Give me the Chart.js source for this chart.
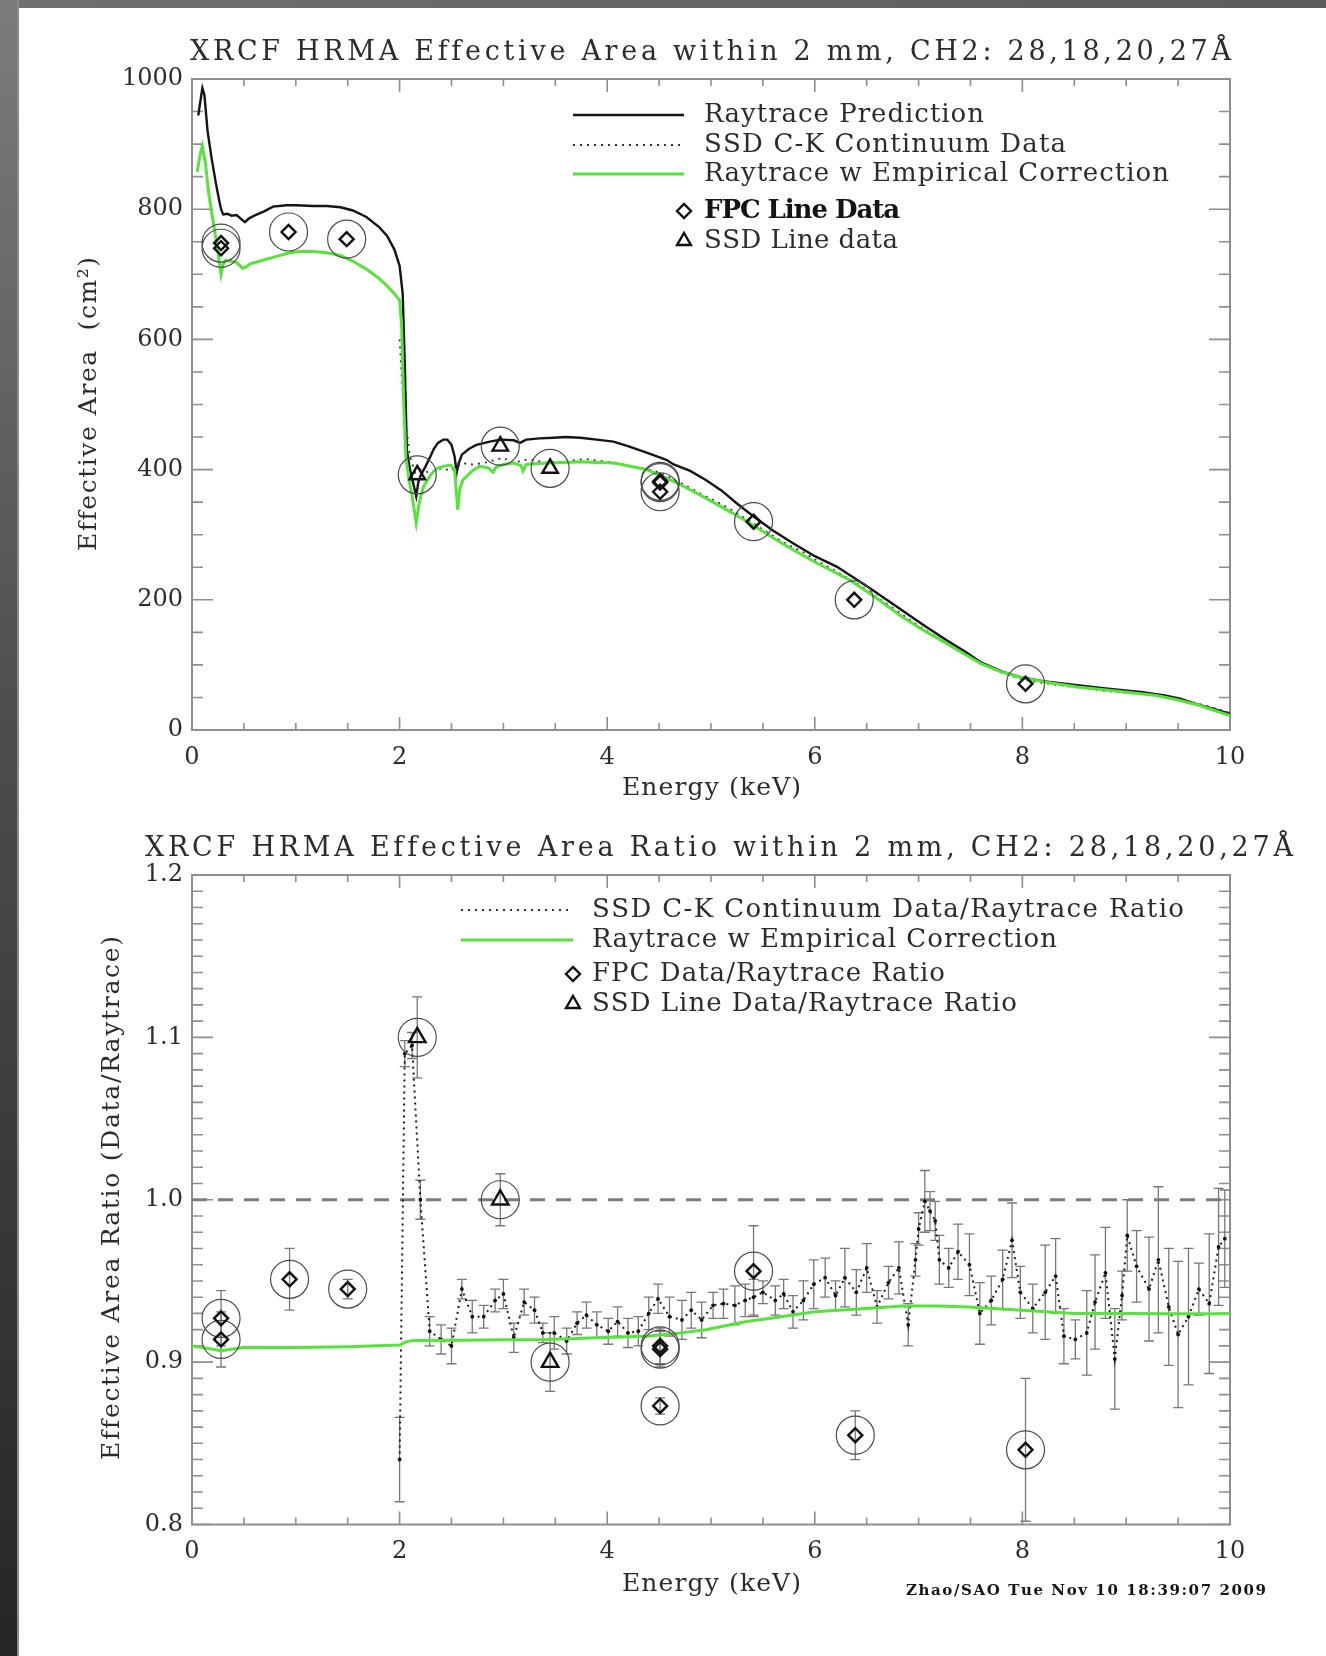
<!DOCTYPE html>
<html>
<head>
<meta charset="utf-8">
<title>XRCF HRMA Effective Area</title>
<script src="https://cdn.jsdelivr.net/npm/chart.js@4.4.1/dist/chart.umd.min.js"></script>
<style>
  html, body { margin: 0; padding: 0; background: #ffffff; }
  body { width: 1326px; height: 1656px; position: relative; overflow: hidden; }
  #frameTop { position: absolute; left: 0; top: 0; width: 1326px; height: 8px;
              background: linear-gradient(to right, #707070, #5c5c5c); }
  #frameLeft { position: absolute; left: 0; top: 0; width: 17px; height: 1656px;
               background: linear-gradient(#7c7c7c, #4c4c4c 45%, #262626);
               border-right: 2px solid #8a8a8a; }
  canvas { position: absolute; left: 0; }
  #areaChart { top: 0; }
  #ratioChart { top: 800px; }
</style>
</head>
<body>
<div id="frameTop"></div>
<div id="frameLeft"></div>
<canvas id="areaChart" width="1326" height="800"></canvas>
<canvas id="ratioChart" width="1326" height="856"></canvas>
<script>
// ---------------- upper panel: effective area (cm^2) vs energy (keV) ----------------
const rayEnergy = [0.06,0.08,0.10,0.12,0.15,0.19,0.23,0.26,0.28,0.30,0.34,0.38,0.43,0.48,0.51,0.55,0.60,0.70,0.78,0.91,
  1.00,1.17,1.30,1.43,1.55,1.68,1.80,1.88,1.95,2.00,2.03,2.05,2.07,2.10,2.13,2.16,2.18,2.20,2.25,2.29,
  2.33,2.37,2.42,2.46,2.50,2.53,2.55,2.57,2.60,2.67,2.74,2.87,2.97,3.10,3.16,3.22,3.35,3.48,3.60,3.74,
  3.90,4.06,4.20,4.38,4.57,4.64,4.80,4.95,5.10,5.25,5.41,5.60,5.79,6.00,6.21,6.51,6.84,7.05,7.27,7.45,
  7.60,7.80,7.98,8.20,8.53,8.80,9.16,9.37,9.52,9.67,9.85,10.0];
const rayArea = [944,965,986,975,920,877,840,815,800,792,793,790,791,784,780,786,790,797,804,806,
  806,805,805,803,798,788,773,759,738,713,670,560,430,400,380,359,380,390,405,418,
  432,441,446,446,438,420,395,410,423,432,438,443,446,445,441,446,448,449,450,449,
  446,443,436,426,415,408,398,384,368,348,328,306,287,267,251,220,184,161,138,120,
  104,90,81,75,69,64,58,53,48,40,32,25];

const contEnergy = [2.00,2.03,2.06,2.10,2.15,2.20,2.29,2.40,2.50,2.60,2.70,2.81,2.92,3.00,3.10,3.20,3.30,3.40,3.50,3.60,
  3.70,3.80,3.90,4.00,4.10,4.20,4.30,4.40,4.50,4.60,4.70,4.80,4.90,5.00,5.10,5.20,5.30,5.40,5.50,5.60,
  5.70,5.80,5.90,6.00,6.20,6.40,6.60,6.80,7.00,7.20,7.40,7.60,7.80,8.00,8.20,8.40,8.60,8.80,9.00,9.20,
  9.40,9.60,9.80,10.0];
const contArea = [600,520,470,420,395,400,395,402,398,410,408,410,415,418,410,415,415,410,412,412,
  415,416,414,412,410,406,403,400,396,388,380,372,363,355,347,338,328,318,308,298,
  288,280,272,262,244,226,204,182,160,140,120,102,88,78,72,68,64,60,57,55,
  50,44,36,26];

const corrEnergy = [0.05,0.08,0.10,0.13,0.16,0.19,0.22,0.25,0.28,0.30,0.32,0.38,0.43,0.49,0.53,0.56,0.65,0.78,0.94,1.05,
  1.17,1.30,1.43,1.55,1.68,1.80,1.88,1.95,2.00,2.02,2.04,2.06,2.09,2.12,2.16,2.19,2.23,2.30,2.36,2.42,
  2.49,2.53,2.56,2.58,2.61,2.70,2.77,2.85,2.90,2.93,3.00,3.10,3.17,3.19,3.22,3.30,3.42,3.60,3.74,3.90,
  4.06,4.20,4.38,4.50,4.64,4.74,5.02,5.20,5.37,5.60,5.79,6.00,6.34,6.60,6.84,7.05,7.27,7.45,7.60,7.80,
  7.98,8.20,8.53,8.90,9.29,9.50,9.70,9.85,10.0];
const corrArea = [857,885,897,870,826,795,765,735,700,715,721,720,718,709,712,716,720,726,733,735,
  735,733,729,720,708,694,682,670,660,620,500,420,385,360,318,350,374,392,402,405,
  407,400,338,370,384,398,405,403,396,404,408,410,406,398,408,409,410,411,412,411,
  410,406,400,392,382,374,350,334,318,295,277,258,230,202,174,153,133,116,102,89,
  81,74,66,60,53,46,38,30,22];

const fpcLineEnergy = [0.28,0.28,0.93,1.49,4.51,4.51,4.51,5.41,6.38,8.03];
const fpcLineArea   = [748,740,765,754,382,380,366,320,200,71];
const ssdLineEnergy = [2.17,2.97,3.45];
const ssdLineArea   = [392,436,402];

const energyTicks = [0,2,4,6,8,10];
const energyTickLabels = ['0','2','4','6','8','10'];
const areaTicks = [0,200,400,600,800,1000];
const areaTickLabels = ['0','200','400','600','800','1000'];

// ---------------- lower panel: data / raytrace ratio ----------------
const contRatioEnergy = [2.00,2.05,2.12,2.20,2.29,2.40,2.50,2.60,2.70,2.81,2.92,3.00,3.10,3.20,3.30,3.38,3.49,3.61,3.71,3.80,
  3.90,4.01,4.10,4.20,4.30,4.40,4.49,4.60,4.72,4.81,4.91,5.02,5.12,5.23,5.33,5.41,5.50,5.62,5.70,5.79,
  5.89,5.99,6.10,6.20,6.29,6.40,6.50,6.60,6.71,6.81,6.90,6.97,7.00,7.06,7.11,7.16,7.20,7.29,7.38,7.49,
  7.59,7.70,7.81,7.90,7.98,8.10,8.22,8.32,8.40,8.51,8.62,8.70,8.80,8.89,8.96,9.01,9.10,9.22,9.31,9.41,
  9.50,9.60,9.70,9.80,9.89,9.95];
const contRatio = [0.840,1.090,1.095,1.000,0.919,0.914,0.910,0.945,0.928,0.928,0.938,0.942,0.915,0.937,0.932,0.918,0.918,0.913,0.924,0.929,
  0.923,0.919,0.925,0.918,0.919,0.930,0.939,0.928,0.926,0.932,0.926,0.935,0.936,0.935,0.938,0.940,0.943,0.938,0.942,0.931,
  0.938,0.948,0.952,0.941,0.952,0.943,0.958,0.934,0.949,0.958,0.923,0.963,0.982,0.999,0.993,0.987,0.963,0.958,0.968,0.960,
  0.930,0.938,0.951,0.975,0.943,0.933,0.943,0.953,0.916,0.914,0.918,0.937,0.955,0.902,0.941,0.978,0.959,0.945,0.963,0.934,
  0.917,0.928,0.945,0.936,0.971,0.976];
const contRatioErr = [0.026,0.008,0.008,0.012,0.009,0.009,0.011,0.006,0.010,0.007,0.007,0.009,0.009,0.008,0.008,0.006,0.010,0.008,0.007,0.008,
  0.008,0.008,0.009,0.009,0.009,0.010,0.009,0.012,0.012,0.011,0.011,0.008,0.009,0.012,0.010,0.011,0.007,0.009,0.009,0.010,
  0.012,0.015,0.012,0.009,0.018,0.014,0.015,0.010,0.010,0.016,0.013,0.010,0.010,0.019,0.012,0.012,0.015,0.012,0.017,0.019,
  0.019,0.015,0.018,0.023,0.016,0.015,0.029,0.023,0.017,0.012,0.026,0.029,0.028,0.031,0.015,0.022,0.022,0.032,0.045,0.036,
  0.045,0.042,0.016,0.043,0.036,0.030];

const corrRatioEnergy = [0.00,0.10,0.28,0.50,1.00,1.50,2.00,2.06,2.13,2.60,3.00,3.42,3.90,4.38,4.70,
  4.95,5.34,5.58,6.00,6.50,6.84,7.20,7.48,8.11,8.50,8.95,9.50,10.0];
const corrRatio = [0.910,0.909,0.907,0.909,0.909,0.9095,0.9105,0.9125,0.9133,0.9135,0.9138,0.914,0.915,0.916,0.918,
  0.920,0.925,0.927,0.931,0.933,0.9346,0.9345,0.934,0.9315,0.930,0.930,0.9298,0.9298];

const fpcRatioEnergy = [0.28,0.28,0.94,1.50,4.51,4.51,4.51,5.41,6.39,8.03];
const fpcRatio       = [0.927,0.914,0.951,0.945,0.910,0.908,0.873,0.956,0.855,0.846];
const fpcRatioErr    = [0.017,0.017,0.019,0.006,0.011,0.011,0.005,0.028,0.015,0.044];
const ssdRatioEnergy = [2.17,2.97,3.45];
const ssdRatio       = [1.100,1.000,0.900];
const ssdRatioErr    = [0.025,0.016,0.018];

const unityEnergy = [0,10];
const unityRatio = [1.0,1.0];

const ratioTicks = [0.8,0.9,1.0,1.1,1.2];
const ratioTickLabels = ['0.8','0.9','1.0','1.1','1.2'];

// ---------------- helpers ----------------
const pairs = (xs, ys) => xs.map((x, i) => ({ x: x, y: ys[i] }));
const SERIF = '"DejaVu Serif", "Liberation Serif", serif';
const GREEN = '#58e23c';
const INK = '#2c2c2c';

// text spread evenly over a given length (drawn along +x from the current origin)
function drawSpread(ctx, text, len, font, color) {
  ctx.font = font;
  ctx.fillStyle = color;
  ctx.textBaseline = 'middle';
  ctx.textAlign = 'left';
  const chars = Array.from(text);
  const w = chars.map(c => ctx.measureText(c).width);
  const sum = w.reduce((s, v) => s + v, 0);
  const gap = chars.length > 1 ? (len - sum) / (chars.length - 1) : 0;
  let x = 0;
  chars.forEach((c, i) => { ctx.fillText(c, x, 0); x += w[i] + gap; });
}

function markerPath(ctx, style, x, y, r) {
  ctx.beginPath();
  if (style === 'rectRot') {
    ctx.moveTo(x - r, y); ctx.lineTo(x, y - r); ctx.lineTo(x + r, y); ctx.lineTo(x, y + r);
  } else {
    const a = 2 * Math.PI / 3;
    ctx.moveTo(x, y - r);
    ctx.lineTo(x + Math.sin(a) * r, y - Math.cos(a) * r);
    ctx.lineTo(x + Math.sin(2 * a) * r, y - Math.cos(2 * a) * r);
  }
  ctx.closePath();
}

// frame with inward major/minor ticks on all four sides
const axesBoxPlugin = {
  id: 'axesBox',
  beforeDatasetsDraw(chart, args, o) {
    const { ctx, chartArea: a, scales: { x, y } } = chart;
    ctx.save();
    ctx.strokeStyle = '#8e8e8e';
    ctx.lineWidth = 1.6;
    ctx.beginPath();
    const nx = Math.round((x.max - x.min) / o.xMinor);
    for (let i = 0; i <= nx; i++) {
      const px = x.getPixelForValue(x.min + i * o.xMinor);
      const len = (i % o.xPer === 0) ? o.xMajorLen : o.xMinorLen;
      ctx.moveTo(px, a.bottom); ctx.lineTo(px, a.bottom - len);
      ctx.moveTo(px, a.top); ctx.lineTo(px, a.top + len);
    }
    const ny = Math.round((y.max - y.min) / o.yMinor);
    for (let i = 0; i <= ny; i++) {
      const py = y.getPixelForValue(y.min + i * o.yMinor);
      const len = (i % o.yPer === 0) ? o.yMajorLen : o.yMinorLen;
      ctx.moveTo(a.left, py); ctx.lineTo(a.left + len, py);
      ctx.moveTo(a.right, py); ctx.lineTo(a.right - len, py);
    }
    ctx.stroke();
    ctx.lineWidth = 2;
    ctx.strokeRect(a.left, a.top, a.right - a.left, a.bottom - a.top);
    ctx.restore();
  }
};

// vertical error bars for datasets that carry an "errors" array
const errorBarPlugin = {
  id: 'errorBars',
  beforeDatasetsDraw(chart, args, o) {
    const { ctx, chartArea: a, scales: { x, y } } = chart;
    ctx.save();
    ctx.beginPath();
    ctx.rect(a.left, a.top, a.right - a.left, a.bottom - a.top);
    ctx.clip();
    ctx.strokeStyle = o.color || '#7a7a7a';
    ctx.lineWidth = o.width || 1.3;
    const cap = o.cap || 5;
    chart.data.datasets.forEach(ds => {
      if (!ds.errors) return;
      ds.data.forEach((p, i) => {
        const e = ds.errors[i];
        const px = x.getPixelForValue(p.x);
        const t = y.getPixelForValue(p.y + e);
        const b = y.getPixelForValue(p.y - e);
        ctx.beginPath();
        ctx.moveTo(px, t); ctx.lineTo(px, b);
        ctx.moveTo(px - cap, t); ctx.lineTo(px + cap, t);
        ctx.moveTo(px - cap, b); ctx.lineTo(px + cap, b);
        ctx.stroke();
      });
    });
    ctx.restore();
  }
};

// titles, axis names, key and footer
const annotationPlugin = {
  id: 'annotations',
  afterDraw(chart, args, o) {
    const ctx = chart.ctx;
    (o.texts || []).forEach(t => {
      ctx.save();
      const font = (t.bold ? 'bold ' : '') + t.size + 'px ' + SERIF;
      if (t.vertical) {
        ctx.translate(t.x, t.y1);
        ctx.rotate(-Math.PI / 2);
        drawSpread(ctx, t.text, t.y1 - t.y0, font, t.color || INK);
      } else {
        ctx.translate(t.x0, t.y);
        drawSpread(ctx, t.text, t.x1 - t.x0, font, t.color || INK);
      }
      ctx.restore();
    });
    const k = o.key;
    if (!k) return;
    k.rows.forEach(r => {
      ctx.save();
      if (r.line) {
        ctx.strokeStyle = r.line.color;
        ctx.lineWidth = r.line.width;
        ctx.setLineDash(r.line.dash || []);
        ctx.beginPath();
        ctx.moveTo(k.sampleX0, r.y); ctx.lineTo(k.sampleX1, r.y);
        ctx.stroke();
      } else {
        ctx.strokeStyle = '#111';
        ctx.lineWidth = 2.4;
        markerPath(ctx, r.marker, k.markerX, r.y, r.marker === 'rectRot' ? 7 : 8);
        ctx.stroke();
      }
      ctx.restore();
      ctx.save();
      ctx.translate(k.textX, r.y);
      drawSpread(ctx, r.text, r.end - k.textX, (r.bold ? 'bold ' : '') + k.size + 'px ' + SERIF, r.bold ? '#141414' : INK);
      ctx.restore();
    });
  }
};

function energyAxis(height) {
  return {
    type: 'linear', min: 0, max: 10,
    grid: { display: false, drawTicks: false }, border: { display: false },
    afterBuildTicks: s => { s.ticks = energyTicks.map(v => ({ value: v })); },
    afterFit: s => { s.height = height; },
    ticks: { autoSkip: false, padding: 13, color: INK, font: { family: SERIF, size: 24 },
             callback: (v, i) => energyTickLabels[i] }
  };
}

function valueAxis(min, max, tickValues, tickLabels) {
  return {
    type: 'linear', min: min, max: max,
    grid: { display: false, drawTicks: false }, border: { display: false },
    afterBuildTicks: s => { s.ticks = tickValues.map(v => ({ value: v })); },
    afterFit: s => { s.width = 192; },
    ticks: { autoSkip: false, padding: 9, color: INK, font: { family: SERIF, size: 24 },
             callback: (v, i) => tickLabels[i] }
  };
}

const ringStyle = { pointStyle: 'circle', pointRadius: 19, borderColor: '#4a4a4a', borderWidth: 1.2,
                    backgroundColor: 'rgba(0,0,0,0)', showLine: false };

// ---------------- upper chart ----------------
new Chart(document.getElementById('areaChart'), {
  type: 'scatter',
  data: {
    datasets: [
      { label: 'Raytrace w Empirical Correction', data: pairs(corrEnergy, corrArea), showLine: true,
        borderColor: GREEN, borderWidth: 3, pointRadius: 0, order: 2 },
      { label: 'SSD C-K Continuum Data', data: pairs(contEnergy, contArea), showLine: true,
        borderColor: '#333', borderWidth: 1.8, borderDash: [2, 5], pointRadius: 0, order: 3 },
      { label: 'Raytrace Prediction', data: pairs(rayEnergy, rayArea), showLine: true,
        borderColor: '#151515', borderWidth: 2.4, pointRadius: 0, order: 4 },
      { label: 'FPC Line Data', data: pairs(fpcLineEnergy, fpcLineArea), pointStyle: 'rectRot', pointRadius: 7,
        borderColor: '#111', borderWidth: 2.4, backgroundColor: 'rgba(0,0,0,0)', order: 0 },
      { label: 'SSD Line data', data: pairs(ssdLineEnergy, ssdLineArea), pointStyle: 'triangle', pointRadius: 9,
        borderColor: '#111', borderWidth: 2.4, backgroundColor: 'rgba(0,0,0,0)', order: 0 },
      Object.assign({ label: 'rings', order: 1,
        data: pairs(fpcLineEnergy.concat(ssdLineEnergy), fpcLineArea.concat(ssdLineArea)) }, ringStyle)
    ]
  },
  options: {
    responsive: false, animation: false, devicePixelRatio: 1, events: [],
    layout: { padding: { left: 0, top: 79, right: 96, bottom: 0 } },
    scales: { x: energyAxis(70), y: valueAxis(0, 1000, areaTicks, areaTickLabels) },
    plugins: {
      legend: { display: false }, tooltip: { enabled: false },
      axesBox: { xMinor: 0.5, xPer: 4, xMajorLen: 13, xMinorLen: 7, yMinor: 50, yPer: 4, yMajorLen: 21, yMinorLen: 11 },
      annotations: {
        texts: [
          { text: 'XRCF HRMA Effective Area within 2 mm, CH2: 28,18,20,27Å', x0: 190, x1: 1231, y: 53, size: 27 },
          { text: 'Energy (keV)', x0: 622, x1: 801, y: 788, size: 25 },
          { text: 'Effective Area  (cm²)', vertical: true, x: 89, y0: 257, y1: 551, size: 25 }
        ],
        key: {
          sampleX0: 573, sampleX1: 684, markerX: 684, textX: 704, size: 26,
          rows: [
            { y: 115, text: 'Raytrace Prediction', end: 984, line: { color: '#151515', width: 2.4 } },
            { y: 145, text: 'SSD C-K Continuum Data', end: 1066, line: { color: '#333', width: 1.8, dash: [2, 5] } },
            { y: 174, text: 'Raytrace w Empirical Correction', end: 1169, line: { color: GREEN, width: 3 } },
            { y: 211, text: 'FPC Line Data', end: 900, marker: 'rectRot', bold: true },
            { y: 241, text: 'SSD Line data', end: 898, marker: 'triangle' }
          ]
        }
      }
    }
  },
  plugins: [axesBoxPlugin, annotationPlugin]
});

// ---------------- lower chart ----------------
new Chart(document.getElementById('ratioChart'), {
  type: 'scatter',
  data: {
    datasets: [
      { label: 'unity', data: pairs(unityEnergy, unityRatio), showLine: true, borderColor: '#7c7c7c',
        borderWidth: 3, borderDash: [15, 11], pointRadius: 0, order: 5 },
      { label: 'SSD C-K Continuum Data/Raytrace Ratio', data: pairs(contRatioEnergy, contRatio), errors: contRatioErr,
        showLine: true, borderColor: '#1c1c1c', borderWidth: 2, borderDash: [2, 4],
        pointRadius: 1.9, pointBackgroundColor: '#111', pointBorderWidth: 0, order: 3 },
      { label: 'Raytrace w Empirical Correction', data: pairs(corrRatioEnergy, corrRatio), showLine: true,
        borderColor: GREEN, borderWidth: 3, pointRadius: 0, order: 2 },
      { label: 'FPC Data/Raytrace Ratio', data: pairs(fpcRatioEnergy, fpcRatio), errors: fpcRatioErr,
        pointStyle: 'rectRot', pointRadius: 7, borderColor: '#111', borderWidth: 2.4,
        backgroundColor: 'rgba(0,0,0,0)', order: 0 },
      { label: 'SSD Line Data/Raytrace Ratio', data: pairs(ssdRatioEnergy, ssdRatio), errors: ssdRatioErr,
        pointStyle: 'triangle', pointRadius: 9.5, borderColor: '#111', borderWidth: 2.4,
        backgroundColor: 'rgba(0,0,0,0)', order: 0 },
      Object.assign({ label: 'rings', order: 1,
        data: pairs(fpcRatioEnergy.concat(ssdRatioEnergy), fpcRatio.concat(ssdRatio)) }, ringStyle)
    ]
  },
  options: {
    responsive: false, animation: false, devicePixelRatio: 1, events: [],
    layout: { padding: { left: 0, top: 75, right: 96, bottom: 0 } },
    scales: { x: energyAxis(131.5), y: valueAxis(0.8, 1.2, ratioTicks, ratioTickLabels) },
    plugins: {
      legend: { display: false }, tooltip: { enabled: false },
      axesBox: { xMinor: 0.5, xPer: 4, xMajorLen: 13, xMinorLen: 7, yMinor: 0.01, yPer: 10, yMajorLen: 21, yMinorLen: 11 },
      errorBars: { color: '#777', width: 1.3, cap: 5 },
      annotations: {
        texts: [
          { text: 'XRCF HRMA Effective Area Ratio within 2 mm, CH2: 28,18,20,27Å', x0: 145, x1: 1293, y: 49, size: 27 },
          { text: 'Energy (keV)', x0: 622, x1: 801, y: 784, size: 25 },
          { text: 'Effective Area Ratio (Data/Raytrace)', vertical: true, x: 112, y0: 136, y1: 660, size: 25 },
          { text: 'Zhao/SAO Tue Nov 10 18:39:07 2009', x0: 906, x1: 1266, y: 791, size: 15, bold: true, color: '#141414' }
        ],
        key: {
          sampleX0: 461, sampleX1: 573, markerX: 573, textX: 592, size: 26,
          rows: [
            { y: 110, text: 'SSD C-K Continuum Data/Raytrace Ratio', end: 1184, line: { color: '#333', width: 1.8, dash: [2, 5] } },
            { y: 140, text: 'Raytrace w Empirical Correction', end: 1057, line: { color: GREEN, width: 3 } },
            { y: 174, text: 'FPC Data/Raytrace Ratio', end: 945, marker: 'rectRot' },
            { y: 204, text: 'SSD Line Data/Raytrace Ratio', end: 1017, marker: 'triangle' }
          ]
        }
      }
    }
  },
  plugins: [axesBoxPlugin, errorBarPlugin, annotationPlugin]
});
</script>
</body>
</html>
